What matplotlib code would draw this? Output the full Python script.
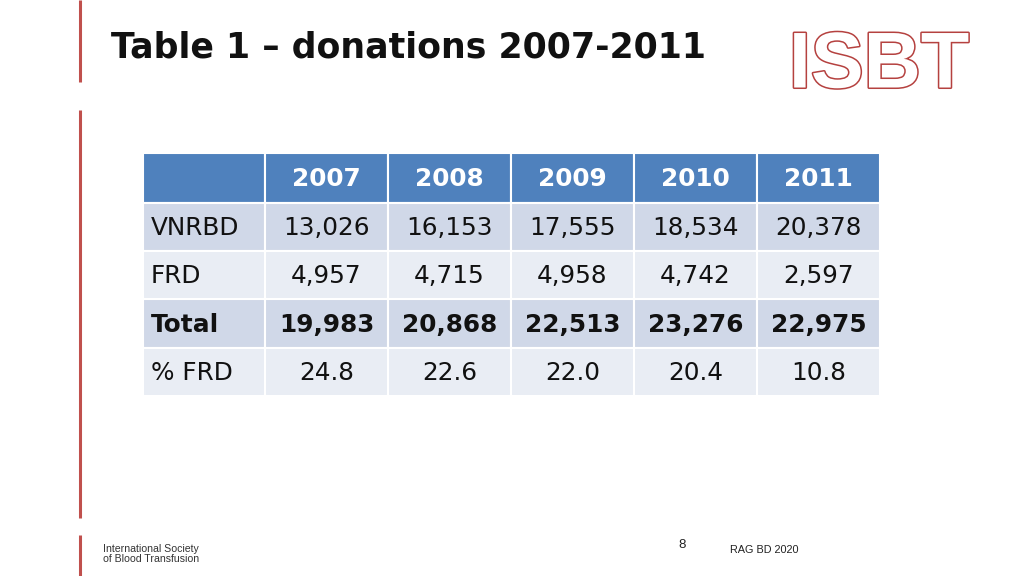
import matplotlib
matplotlib.use("Agg")
import matplotlib.pyplot as plt
from matplotlib.patches import Rectangle
import matplotlib.patheffects as pe

years = ['2007', '2008', '2009', '2010', '2011']
row_labels = ['VNRBD', 'FRD', 'Total', '% FRD']
vnrbd = [13026, 16153, 17555, 18534, 20378]
frd = [4957, 4715, 4958, 4742, 2597]
total = [19983, 20868, 22513, 23276, 22975]
pct_frd = [24.8, 22.6, 22.0, 20.4, 10.8]

title = 'Table 1 \u2013 donations 2007-2011'

fig = plt.figure(figsize=(10.24, 5.76), dpi=100)
ax = fig.add_axes([0, 0, 1, 1])
ax.set_xlim(0, 1024)
ax.set_ylim(576, 0)
ax.axis('off')

red = '#C0504D'
# left red rules
for y0, y1 in [(0, 82), (110, 518), (535, 576)]:
    ax.plot([80, 80], [y0, y1], color=red, lw=2.2, solid_capstyle='butt')

ax.text(111, 47, title, fontsize=25, fontweight='bold', family='DejaVu Sans',
        ha='left', va='center', color='#111111')

# logo
ax.text(879, 67, 'ISBT', fontsize=57, fontweight='bold', family='Liberation Sans',
        ha='center', va='center', color='white',
        path_effects=[pe.Stroke(linewidth=2.2, foreground='#B5413F'), pe.Normal()])

# table
col_edges = [143, 265, 388, 511, 634, 757, 880]
row_edges = [153, 203, 251, 299, 348, 396]
row_colors = ['#4F81BD', '#D0D8E8', '#E9EDF4', '#D0D8E8', '#E9EDF4']

rows = [
    [f'{v:,}' for v in vnrbd],
    [f'{v:,}' for v in frd],
    [f'{v:,}' for v in total],
    [f'{v:.1f}' for v in pct_frd],
]

font = 'DejaVu Sans'
fs = 17.8
for r in range(5):
    y0, y1 = row_edges[r], row_edges[r + 1]
    for c in range(6):
        x0, x1 = col_edges[c], col_edges[c + 1]
        ax.add_patch(Rectangle((x0, y0), x1 - x0, y1 - y0, facecolor=row_colors[r],
                               edgecolor='white', lw=1.5))
    yc = (y0 + y1) / 2 + 1
    if r == 0:
        for c, yr in enumerate(years):
            xc = (col_edges[c + 1] + col_edges[c + 2]) / 2
            ax.text(xc, yc, yr, fontsize=fs, fontweight='bold', family=font,
                    ha='center', va='center', color='white')
    else:
        bold = 'bold' if r == 3 else 'normal'
        ax.text(151, yc, row_labels[r - 1], fontsize=fs, fontweight=bold, family=font,
                ha='left', va='center', color='#111111')
        for c, val in enumerate(rows[r - 1]):
            xc = (col_edges[c + 1] + col_edges[c + 2]) / 2
            ax.text(xc, yc, val, fontsize=fs, fontweight=bold, family=font,
                    ha='center', va='center', color='#111111')

# footer
ax.text(103, 554, 'International Society\nof Blood Transfusion', fontsize=7.6,
        family='Liberation Sans', ha='left', va='center', color='#333333', linespacing=1.05)
ax.text(682, 545, '8', fontsize=9.5, family='Liberation Sans', ha='center', va='center',
        color='#222222')
ax.text(730, 550, 'RAG BD 2020', fontsize=7.8, family='Liberation Sans', ha='left',
        va='center', color='#222222')

fig.savefig('out.png', dpi=100)
